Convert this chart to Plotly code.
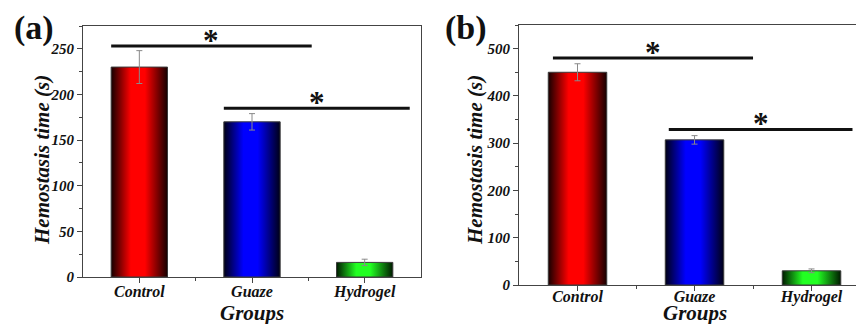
import plotly.graph_objects as go

# ---------------- data ----------------
categories = ["Control", "Guaze", "Hydrogel"]
values_a = [230, 170, 16]
errors_a = [18, 9, 3.5]
values_b = [450, 307, 30]
errors_b = [18, 9, 4]
yticks_a = [0, 50, 100, 150, 200, 250]
yticks_b = [0, 100, 200, 300, 400, 500]
# significance brackets: (x_start, x_end, y) in category / value units
sig_a = [(-0.25, 1.53, 253), (0.75, 2.40, 185)]
sig_b = [(-0.21, 1.50, 480), (0.78, 2.35, 329)]
panel_labels = ["(a)", "(b)"]

# ---------------- style ----------------
W, H = 856, 324
bar_w = 0.5
grads = [
    [[0, "#160000"], [0.35, "#ff0000"], [0.6, "#ff0000"], [1, "#160000"]],
    [[0, "#000016"], [0.35, "#0000ff"], [0.6, "#0000ff"], [1, "#000016"]],
    [[0, "#001a00"], [0.35, "#22ff22"], [0.6, "#22ff22"], [1, "#001a00"]],
]
SERIF = "Liberation Serif"
axis_col = "#444444"

def px_x(p):
    return p / W

def px_y(p):
    return (H - p) / H

fig = go.Figure()

def add_panel(vals, errs, xa, ya):
    for i, v in enumerate(vals):
        c = i
        fig.add_trace(go.Scatter(
            x=[c - bar_w / 2, c - bar_w / 2, c + bar_w / 2, c + bar_w / 2, c - bar_w / 2],
            y=[0, v, v, 0, 0],
            mode="lines", fill="toself",
            fillgradient=dict(type="horizontal", colorscale=grads[i]),
            line=dict(color="#3a3a3a", width=1),
            xaxis=xa, yaxis=ya, hoverinfo="skip", showlegend=False))
    fig.add_trace(go.Scatter(
        x=list(range(len(vals))), y=vals, mode="markers",
        marker=dict(size=1, opacity=0),
        error_y=dict(type="data", array=errs, visible=True, color="#8a8a8a",
                     thickness=1, width=3),
        xaxis=xa, yaxis=ya, hoverinfo="skip", showlegend=False))

add_panel(values_a, errors_a, "x", "y")
add_panel(values_b, errors_b, "x2", "y2")

shapes = []
annotations = []
star_font = dict(family=SERIF, size=31, color="#111111", weight="bold")
for sigs, xr, yr in [(sig_a, "x", "y"), (sig_b, "x2", "y2")]:
    for (x0, x1, yv) in sigs:
        shapes.append(dict(type="line", xref=xr, yref=yr, x0=x0, x1=x1, y0=yv, y1=yv,
                           line=dict(color="#111111", width=3)))
        annotations.append(dict(xref=xr, yref=yr, x=(x0 + x1) / 2,
                                y=yv, text="*", showarrow=False, font=star_font,
                                xanchor="center", yanchor="bottom", yshift=-14))

tick_font = dict(family=SERIF, size=15, color="#111111", weight="bold", style="italic")
xtick_font = dict(family=SERIF, size=16, color="#111111", weight="bold", style="italic")
title_font = dict(family=SERIF, size=21, color="#111111", weight="bold", style="italic")
label_font = dict(family=SERIF, size=34, color="#111111", weight="bold")

# axis titles and panel labels
annotations += [
    dict(xref="paper", yref="paper", x=px_x(42), y=px_y(160), text="Hemostasis time (s)",
         textangle=-90, showarrow=False, font=title_font),
    dict(xref="paper", yref="paper", x=px_x(475), y=px_y(160), text="Hemostasis time (s)",
         textangle=-90, showarrow=False, font=title_font),
    dict(xref="x", yref="paper", x=1, y=px_y(312.5), text="Groups", showarrow=False,
         font=title_font),
    dict(xref="x2", yref="paper", x=1, y=px_y(312.5), text="Groups", showarrow=False,
         font=title_font),
    dict(xref="paper", yref="paper", x=px_x(34), y=px_y(28), text=panel_labels[0],
         showarrow=False, font=label_font),
    dict(xref="paper", yref="paper", x=px_x(466), y=px_y(28), text=panel_labels[1],
         showarrow=False, font=label_font),
]
for a in annotations[-6:]:
    a["xanchor"] = "center"
    a["yanchor"] = "middle"

def xaxis_cfg(domain, rng, anchor, standoff):
    return dict(domain=domain, range=rng, anchor=anchor, tickmode="array",
                tickvals=list(range(len(categories))), ticktext=categories,
                ticks="outside", ticklen=5, tickcolor=axis_col, tickwidth=1,
                minor=dict(tickmode="array", tickvals=[0.5, 1.5], ticks="outside",
                           ticklen=3, tickcolor=axis_col),
                showline=True, linecolor=axis_col, linewidth=1, mirror=True,
                showgrid=False, zeroline=False, tickfont=xtick_font, fixedrange=True,
                automargin=False, ticklabelstandoff=standoff)

def yaxis_cfg(domain, rng, tickvals, minor_dtick, anchor, mirror):
    return dict(domain=domain, range=rng, anchor=anchor, tickmode="array",
                tickvals=tickvals, ticks="outside", ticklen=5, tickcolor=axis_col,
                minor=dict(dtick=minor_dtick, tick0=0, ticks="outside", ticklen=3,
                           tickcolor=axis_col),
                showline=True, linecolor=axis_col, linewidth=1, mirror=mirror,
                showgrid=False, zeroline=False, tickfont=tick_font, fixedrange=True,
                automargin=False)

fig.update_layout(
    width=W, height=H, margin=dict(l=0, r=0, t=0, b=0, autoexpand=False),
    paper_bgcolor="white", plot_bgcolor="white", showlegend=False,
    xaxis=xaxis_cfg([px_x(83), px_x(421)], [-0.5, 2.5], "y", -5),
    yaxis=yaxis_cfg([px_y(277), px_y(26)], [0, 275], yticks_a, 25, "x", True),
    xaxis2=xaxis_cfg([px_x(519), 1.0], [-0.5, 2.38], "y2", -8),
    yaxis2=yaxis_cfg([px_y(285), px_y(25)], [0, 550], yticks_b, 50, "x2", False),
    shapes=shapes, annotations=annotations,
)
fig.write_html("out.html")
